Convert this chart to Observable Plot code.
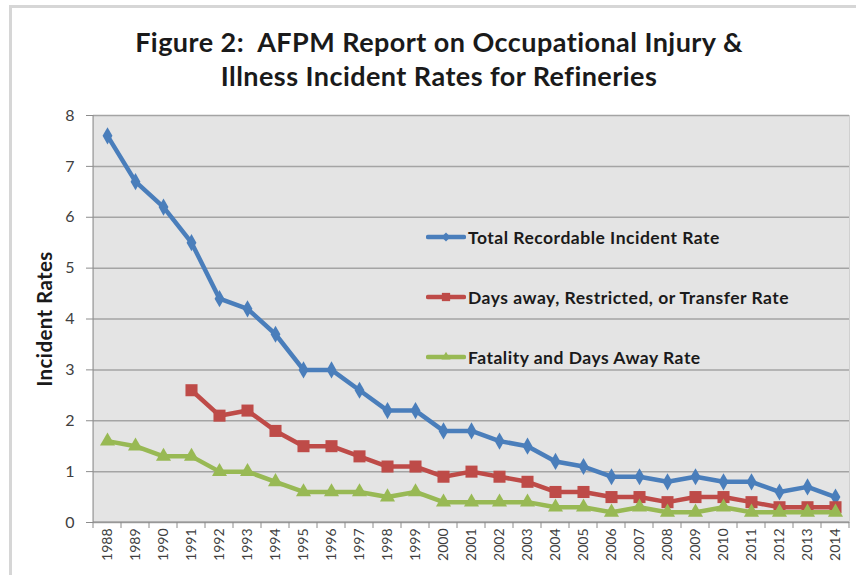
<!DOCTYPE html>
<html><head><meta charset="utf-8">
<script src="https://cdn.jsdelivr.net/npm/d3@7"></script>
<script src="https://cdn.jsdelivr.net/npm/@observablehq/plot@0.6"></script>
<style>
body{margin:0;background:#fff;}
#wrap{position:relative;width:856px;height:575px;overflow:hidden;font-family:Lato,"Open Sans",sans-serif;}
#frame{position:absolute;left:9px;top:5px;width:900px;height:600px;border-left:3px solid #d6d6d6;border-top:3px solid #d6d6d6;}
#title{position:absolute;left:11px;width:856px;top:25px;text-align:center;font-weight:bold;font-size:27px;letter-spacing:0.45px;line-height:34px;color:#1a1a1a;}
#chart{position:absolute;left:0;top:100px;}
#ylab{position:absolute;left:44px;top:319px;transform:translate(-50%,-50%) rotate(-90deg);font-weight:bold;font-size:20.5px;letter-spacing:0.4px;color:#1a1a1a;white-space:nowrap;}
.lg{position:absolute;left:426px;height:20px;display:flex;align-items:center;font-weight:bold;font-size:17.5px;letter-spacing:0.5px;color:#1a1a1a;white-space:nowrap;transform:translateY(-50%);}
.lg svg{margin-right:2px;}
</style></head>
<body><div id="wrap">
<div id="frame"></div>
<div id="title">Figure 2:&nbsp; AFPM Report on Occupational Injury &amp;<br>Illness Incident Rates for Refineries</div>
<div id="chart"></div>
<div id="ylab">Incident Rates</div>
<div id="legend"></div>
</div>
<script>
const years = ["1988","1989","1990","1991","1992","1993","1994","1995","1996","1997","1998","1999","2000","2001","2002","2003","2004","2005","2006","2007","2008","2009","2010","2011","2012","2013","2014"];
const totalRate = [7.6,6.7,6.2,5.5,4.4,4.2,3.7,3.0,3.0,2.6,2.2,2.2,1.8,1.8,1.6,1.5,1.2,1.1,0.9,0.9,0.8,0.9,0.8,0.8,0.6,0.7,0.5];
const dartRate = [null,null,null,2.6,2.1,2.2,1.8,1.5,1.5,1.3,1.1,1.1,0.9,1.0,0.9,0.8,0.6,0.6,0.5,0.5,0.4,0.5,0.5,0.4,0.3,0.3,0.3];
const fatalRate = [1.6,1.5,1.3,1.3,1.0,1.0,0.8,0.6,0.6,0.6,0.5,0.6,0.4,0.4,0.4,0.4,0.3,0.3,0.2,0.3,0.2,0.2,0.3,0.2,0.2,0.2,0.2];
const seriesNames = ["Total Recordable Incident Rate","Days away, Restricted, or Transfer Rate","Fatality and Days Away Rate"];
const seriesColors = ["#4a7ebb","#be4b48","#98b954"];
const seriesSymbols = ["diamond","square","triangle"];
const seriesR = [5.2,6.8,5.6];
const yTicks = [0,1,2,3,4,5,6,7,8];

const seriesValues = [totalRate, dartRate, fatalRate];
const data = seriesValues.map(vals => years.map((yr,i)=>({year:yr, value:vals[i]})));

function boundaryTicks(...args){
  const scales = args.length >= 4 ? args[1] : args[0];
  const dims = args.length >= 4 ? args[3] : args[1];
  const x = scales.x;
  const step = x(years[1]) - x(years[0]);
  const y0 = dims.height - dims.marginBottom;
  const g = d3.create("svg:g").attr("stroke","#8c8c8c").attr("stroke-width",1);
  const bounds = years.map(yr => x(yr) - step/2).concat([x(years[years.length-1]) + step/2]);
  for (const b of bounds) g.append("line").attr("x1",b).attr("x2",b).attr("y1",y0).attr("y2",y0+6);
  const left = bounds[0];
  g.append("line").attr("x1",left).attr("x2",left).attr("y1",dims.marginTop).attr("y2",y0);
  g.append("line").attr("x1",left).attr("x2",bounds[bounds.length-1]).attr("y1",y0).attr("y2",y0);
  return g.node();
}

const marks = [
  Plot.frame({fill:"#e4e4e4", stroke:"#d0d0d0"}),
  Plot.gridY(yTicks, {stroke:"#a4a4a4", strokeOpacity:1, strokeWidth:1.5}),
  Plot.axisY(yTicks, {tickSize:7, tickPadding:12, fontSize:16, fill:"#404040", stroke:"#8c8c8c", label:null, tickFormat:d3.format("d")}),
  Plot.axisX(years, {tickSize:0, tickPadding:6, tickRotate:-90, fontSize:14, fill:"#404040", label:null}),
  boundaryTicks
];
data.forEach((d,k)=>{
  const defined = d.filter(p => p.value != null);
  marks.push(Plot.line(defined, {x:"year", y:"value", stroke:seriesColors[k], strokeWidth:4.5, strokeLinejoin:"round", strokeLinecap:"round"}));
  marks.push(Plot.dot(defined, {x:"year", y:"value", symbol:()=>seriesSymbols[k], fill:seriesColors[k], stroke:"none", r:seriesR[k]}));
});

const chart = Plot.plot({
  width:856, height:475,
  marginTop:15, marginBottom:53, marginLeft:93, marginRight:7,
  style:{fontFamily:"Lato, 'Open Sans', sans-serif", background:"transparent", overflow:"visible"},
  x:{type:"point", domain:years, padding:0.5},
  y:{domain:[0,8]},
  symbol:{type:"identity"},
  marks
});
document.getElementById("chart").append(chart);

// legend
const legend = document.getElementById("legend");
const rowY = [237,297,357];
seriesNames.forEach((name,k)=>{
  const row = document.createElement("div");
  row.className = "lg";
  row.style.top = rowY[k] + "px";
  const svg = d3.create("svg").attr("width",40).attr("height",16);
  svg.append("line").attr("x1",2).attr("x2",38).attr("y1",8).attr("y2",8).attr("stroke",seriesColors[k]).attr("stroke-width",4.5).attr("stroke-linecap","round");
  const symMap = {diamond:d3.symbolDiamond2, square:d3.symbolSquare2, triangle:d3.symbolTriangle2};
  svg.append("path").attr("transform","translate(20,8)").attr("d", d3.symbol(symMap[seriesSymbols[k]], Math.PI*seriesR[k]*seriesR[k]*0.6)()).attr("fill",seriesColors[k]);
  row.append(svg.node());
  const span = document.createElement("span");
  span.textContent = name;
  row.append(span);
  legend.append(row);
});
</script>
</body></html>
